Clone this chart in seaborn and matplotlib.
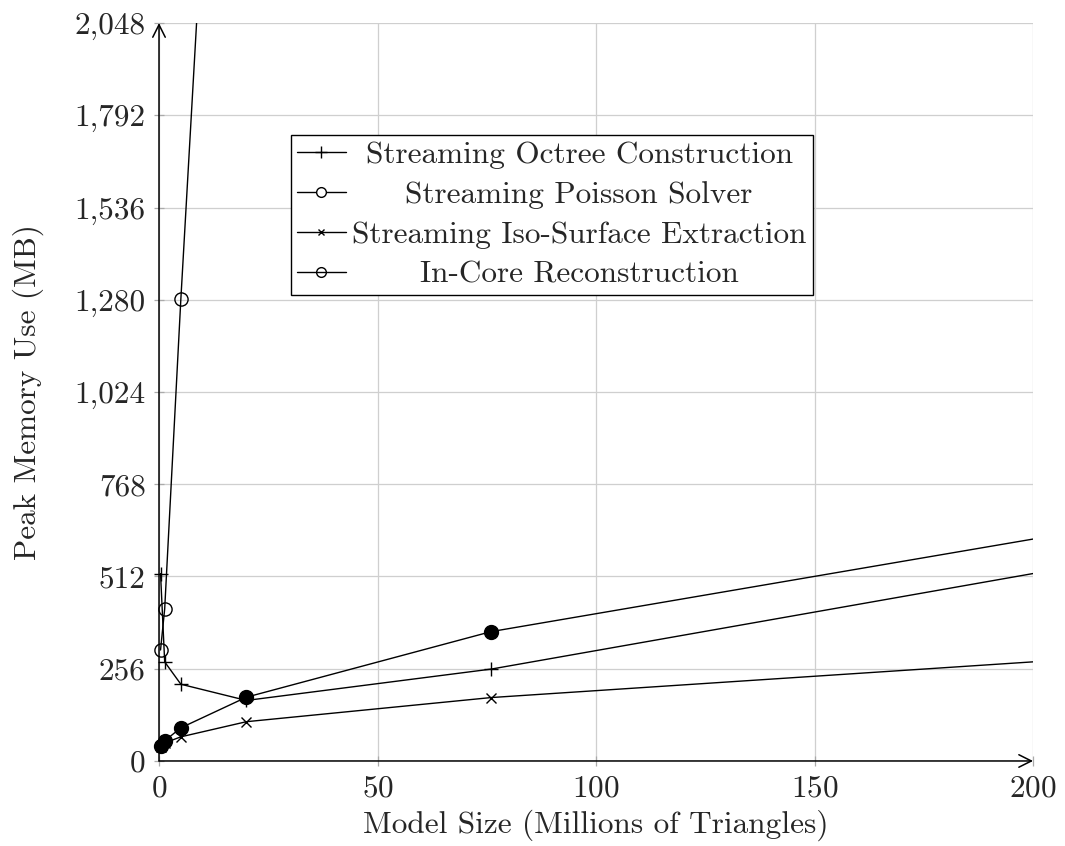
import matplotlib
matplotlib.use("Agg")
import matplotlib.pyplot as plt
import pandas as pd
import seaborn as sns
from matplotlib.ticker import FuncFormatter

# Data (x in millions of triangles, y in MB)
model_size = [0.35, 1.3, 5, 20, 76, 300]
octree_mb = [520, 275, 213, 168, 255, 734]
poisson_mb = [42, 56, 92, 177, 359, 823]
iso_mb = [38, 50, 67, 109, 176, 355]
incore_size = [0.35, 1.3, 5, 20]
incore_mb = [308, 422, 1282, 4477]

labels = ["Streaming Octree Construction", "Streaming Poisson Solver",
          "Streaming Iso-Surface Extraction", "In-Core Reconstruction"]

sns.set_style("whitegrid")
plt.rcParams['font.family'] = ['cmr10', 'DejaVu Serif']
plt.rcParams['axes.formatter.use_mathtext'] = True
FS = 22.5

fig = plt.figure(figsize=(10.65, 8.46), dpi=100)
ax = fig.add_axes([0.1493, 0.1005, 0.8207, 0.8723])

series = [
    (model_size, octree_mb, dict(marker='+', ms=10, mew=1.0, mfc='black')),
    (model_size, poisson_mb, dict(marker='o', ms=10, mew=1.0, mfc='black')),
    (model_size, iso_mb, dict(marker='x', ms=6.5, mew=1.0, mfc='black')),
    (incore_size, incore_mb, dict(marker='o', ms=9.5, mew=1.0, mfc='none')),
]

xmax, ymax = 200, 2048
for xs, ys, mk in series:
    df = pd.DataFrame({'x': xs, 'y': ys})
    sns.lineplot(data=df, x='x', y='y', ax=ax, color='black', lw=1.0,
                 sort=False, estimator=None)
    inside = df[(df.x <= xmax) & (df.y <= ymax)]
    ax.plot(inside.x, inside.y, ls='none', color='black', mec='black',
            clip_on=False, zorder=5, **mk)

ax.set_xlim(0, xmax)
ax.set_ylim(0, ymax)
ax.set_xticks([0, 50, 100, 150, 200])
ax.set_yticks(range(0, 2049, 256))
ax.yaxis.set_major_formatter(FuncFormatter(lambda v, p: f"{int(v):,}"))
ax.grid(True, color='#cfcfcf', lw=0.9)
for s in ax.spines.values():
    s.set_visible(False)
ax.tick_params(axis='both', which='major', direction='inout', length=7,
               width=0.9, color='#aaaaaa', labelsize=FS, pad=6,
               left=True, bottom=True)

# arrowed axes
arrow = dict(arrowstyle='->,head_length=0.5,head_width=0.25', lw=1.1,
             color='black', shrinkA=0, shrinkB=0, mutation_scale=18)
ax.annotate('', xy=(1.0, 0), xytext=(0, 0), xycoords='axes fraction',
            arrowprops=arrow)
ax.annotate('', xy=(0, 1.0), xytext=(0, 0), xycoords='axes fraction',
            arrowprops=arrow)

ax.set_xlabel('Model Size (Millions of Triangles)', fontsize=FS, labelpad=5)
ax.set_ylabel('Peak Memory Use (MB)', fontsize=FS, labelpad=22)

# legend
handles = [
    plt.Line2D([], [], color='black', lw=1.0, marker='+', ms=8, mew=1.0),
    plt.Line2D([], [], color='black', lw=1.0, marker='o', ms=7, mew=1.0, mfc='white'),
    plt.Line2D([], [], color='black', lw=1.0, marker='x', ms=5, mew=1.0),
    plt.Line2D([], [], color='black', lw=1.0, marker='o', ms=7, mew=1.0, mfc='none'),
]
leg = ax.legend(handles, labels, loc='upper left', bbox_to_anchor=(0.151, 0.848),
                frameon=True, fancybox=False, edgecolor='black', framealpha=1,
                fontsize=FS, handlelength=1.55, handletextpad=0.2,
                borderpad=0.2, labelspacing=0.38, borderaxespad=0)
leg.get_frame().set_linewidth(1.0)
fig.canvas.draw()
renderer = fig.canvas.get_renderer()
widths = [t.get_window_extent(renderer).width for t in leg.get_texts()]
wmax = max(widths)
for t, w in zip(leg.get_texts(), widths):
    t.set_position(((wmax - w) / 2, 0))

fig.savefig('out.png', dpi=100)
